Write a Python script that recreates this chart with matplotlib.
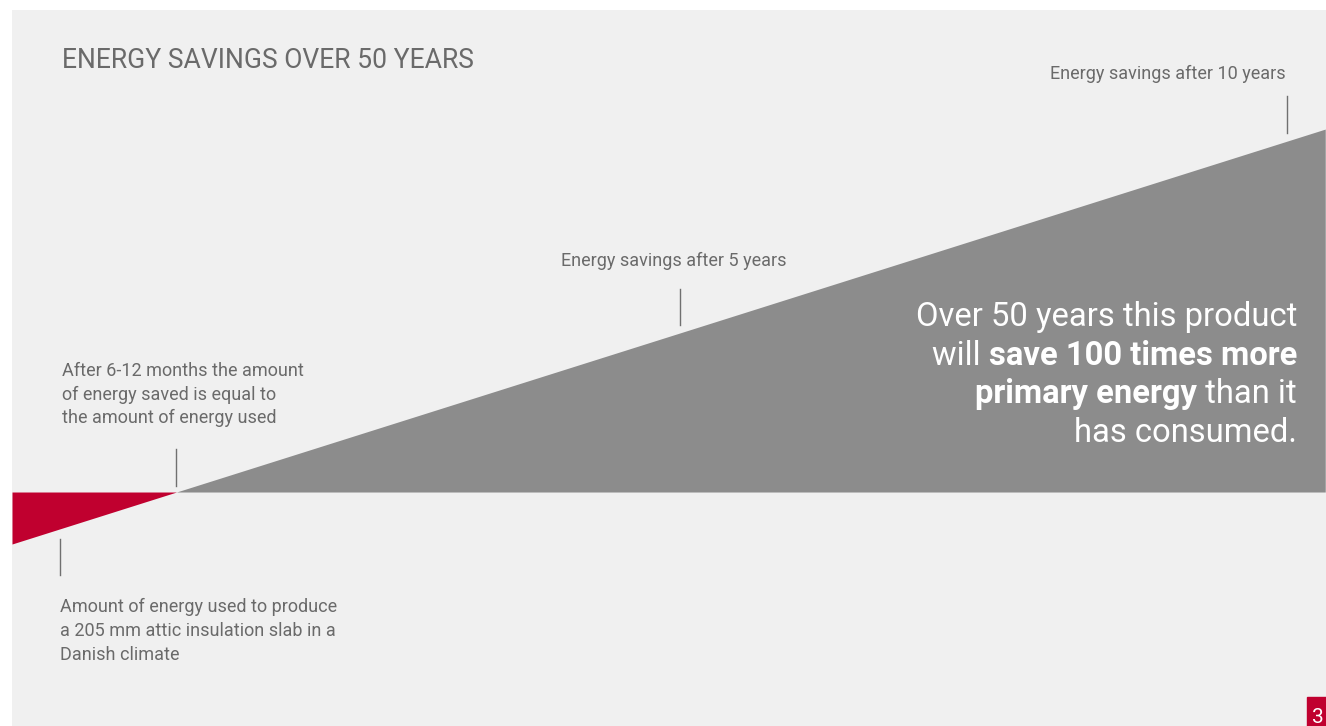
import matplotlib
matplotlib.use('Agg')
import matplotlib.pyplot as plt

# schematic energy balance (years, units of production energy)
years = [0.0, 1.29, 10.3]
balance = [-1.0, 0.0, 6.98]
mark_5y = 5.24
mark_10y = 10.0

title = 'ENERGY SAVINGS OVER 50 YEARS'
lbl_10y = 'Energy savings after 10 years'
lbl_5y = 'Energy savings after 5 years'
lbl_payback = ['After 6-12 months the amount', 'of energy saved is equal to', 'the amount of energy used']
lbl_used = ['Amount of energy used to produce', 'a 205 mm attic insulation slab in a', 'Danish climate']
big_lines = [[('Over 50 years this product', 'normal')],
             [('will ', 'normal'), ('save 100 times more', 'bold')],
             [('primary energy', 'bold'), (' than it', 'normal')],
             [('has consumed.', 'normal')]]

RED = '#c0002f'
GREY = '#8c8c8c'
BG = '#f0f0f0'
TXT = '#6a6a6a'

plt.rcParams['font.family'] = ['Roboto', 'DejaVu Sans']

W, H = 1326, 726
fig = plt.figure(figsize=(W / 100, H / 100), dpi=100)
fig.patch.set_facecolor('white')

def fx(px):
    return px / W

def fy(py):
    return 1 - py / H

ax = fig.add_axes([fx(12), 0, 1 - fx(12), fy(10)])
ax.set_xlim(0, 10.306)
ax.set_ylim(-4.5, 9.27)
ax.axis('off')
ax.add_patch(plt.Rectangle((0, 0), 1, 1, transform=ax.transAxes, color=BG, zorder=0))

ax.fill_between(years, balance, 0, where=[b <= 0 for b in balance], interpolate=True,
                color=RED, lw=0, zorder=2)
ax.fill_between(years, balance, 0, where=[b >= 0 for b in balance], interpolate=True,
                color=GREY, lw=0, zorder=2)

slope = (balance[2] - balance[1]) / (years[2] - years[1])

def level(t):
    return balance[1] + slope * (t - years[1])

lc = '#707070'
ax.plot([years[1]] * 2, [0.12, 0.82], color=lc, lw=1)
ax.plot([0.376] * 2, [-0.9, -1.6], color=lc, lw=1)
ax.plot([mark_5y] * 2, [level(mark_5y) + 0.16, level(mark_5y) + 0.85], color=lc, lw=1)
ax.plot([mark_10y] * 2, [level(mark_10y) + 0.16, level(mark_10y) + 0.87], color=lc, lw=1)

fig.text(fx(62), fy(68), title, fontsize=19.1, color=TXT, va='baseline')
fig.text(fx(1286), fy(79), lbl_10y, fontsize=13, color=TXT, ha='right', va='baseline')
fig.text(fx(561), fy(266), lbl_5y, fontsize=13, color=TXT, va='baseline')
for i, s in enumerate(lbl_payback):
    fig.text(fx(62), fy(376 + 23.5 * i), s, fontsize=13, color=TXT, va='baseline')
for i, s in enumerate(lbl_used):
    fig.text(fx(60), fy(612 + 24 * i), s, fontsize=13, color=TXT, va='baseline')

renderer = fig.canvas.get_renderer()
for i, parts in enumerate(big_lines):
    x = 1297
    y = 326 + 38.6 * i
    for s, wt in reversed(parts):
        t = fig.text(fx(x), fy(y), s, fontsize=23.6, color='white', fontweight=wt,
                     ha='right', va='baseline')
        x -= t.get_window_extent(renderer).width

fig.patches.append(plt.Rectangle((fx(1307), 0), 1 - fx(1307), fy(697), transform=fig.transFigure,
                                 color=RED, zorder=5))
fig.text(fx(1318), fy(723), '3', fontsize=15, color='white', ha='center', va='baseline', zorder=6)

fig.savefig('out.png', dpi=100, facecolor='white')
